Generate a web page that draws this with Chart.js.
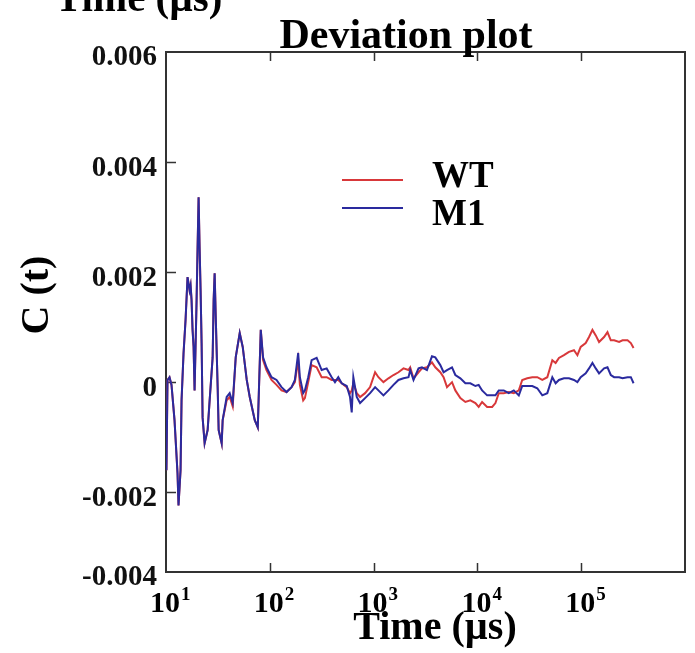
<!DOCTYPE html>
<html><head><meta charset="utf-8">
<script src="https://cdn.jsdelivr.net/npm/chart.js@4.4.0/dist/chart.umd.min.js"></script>
<style>html,body{margin:0;padding:0;background:#fff;}</style>
</head><body><canvas id="c" width="695" height="653"></canvas>
<script>
// ---- data ----
const times = [
  10.1, 10.34, 10.81, 11.30, 12.08, 12.91, 13.20, 13.81, 14.12, 14.76,
  15.43, 16.13, 16.87, 17.25, 17.63, 18.03, 18.44, 18.85, 19.71, 20.15,
  20.61, 21.07, 21.54, 22.03, 22.52, 23.55, 25.18, 26.33, 28.14, 28.77,
  29.42, 30.08, 31.45, 32.16, 34.38, 35.15, 38.42, 41.07, 43.91, 46.95,
  51.31, 54.84, 59.95, 64.09, 71.64, 76.59, 81.85,
  86.1, 92.9, 103.9, 116.1, 129.7, 145.0, 162.1, 174.4, 187.7, 194.9,
  209.8, 217.8, 234.5, 252.9, 282.7, 315.9, 353.0, 394.6, 424.6, 457.0,
  492.9, 550.9, 592.8, 615.6, 637.9, 688.2, 740.5, 827.7, 925.1, 1034,
  1113, 1244, 1390, 1554, 1736, 1941, 2169, 2253, 2424, 2710,
  2922, 3266, 3650, 3929, 4391, 4724, 5096, 5695, 6130, 6851,
  7656, 8556, 9565, 10290, 11100, 12410, 13870, 14920, 16060, 17950,
  20060, 22430, 25060, 27030, 30220, 33770, 37740, 42180, 47140, 52690,
  56710, 61030, 68210, 76230, 85200, 91900, 98890, 110500, 119000, 128300,
  138100, 148600, 166100, 179100, 192800, 207500, 231900, 250100, 279500, 300800,
  319400
];
const wtValues = [
  -0.0016, 0.00004, 0.00009, -0.00005, -0.00069, -0.00165, -0.00224, -0.0016, -0.00033, 0.00053,
  0.00113, 0.00191, 0.00167, 0.00176, 0.00149, 0.00095, 0.00064, -0.00015, 0.00149, 0.00245,
  0.00336, 0.00245, 0.00167, 0.00071, -0.00064, -0.00111, -0.00087, -0.00033, 0.00045, 0.00149,
  0.00198, 0.00125, -0.00009, -0.00087, -0.00111, -0.00069, -0.00033, -0.00027, -0.00044, 0.00045,
  0.00089, 0.00064, 0.00004, -0.00027, -0.00069, -0.00082, 0.00095,
  0.0004, 0.00022, 0.00004, -0.00005, -0.00015, -0.00018, -0.00009, 0, 0.0004, -0.00005,
  -0.00033, -0.00029, 0, 0.00031, 0.00027, 0.00009, 0.00009, 0.00004, 0.00004, 0.00004,
  -0.00002, -0.00009, -0.0002, -0.00015, -0.00002, -0.0002, -0.00027, -0.0002, -0.00009, 0.00018,
  0.00009, 0, 0.00007, 0.00013, 0.00018, 0.00025, 0.00022, 0.00027, 0.00007, 0.00018,
  0.00025, 0.00027, 0.00036, 0.00027, 0.00018, 0.00009, -0.00009, 0, -0.00015, -0.00029,
  -0.00036, -0.00033, -0.00038, -0.00045, -0.00036, -0.00045, -0.00045, -0.00038, -0.0002, -0.0002,
  -0.00018, -0.0002, -0.00015, 0.00004, 0.00007, 0.00009, 0.00009, 0.00004, 0.00009, 0.0004,
  0.00035, 0.00044, 0.00049, 0.00055, 0.00058, 0.00049, 0.00064, 0.00071, 0.00082, 0.00095,
  0.00085, 0.00073, 0.00082, 0.00091, 0.00076, 0.00076, 0.00073, 0.00076, 0.00076, 0.00071,
  0.00062
];
const m1Values = [
  -0.0016, 0.00004, 0.00009, -0.00005, -0.00069, -0.00165, -0.00224, -0.0016, -0.00033, 0.00053,
  0.00113, 0.00191, 0.00167, 0.00176, 0.00149, 0.00095, 0.00064, -0.00015, 0.00149, 0.00245,
  0.00336, 0.00245, 0.00167, 0.00071, -0.00064, -0.00111, -0.00087, -0.00033, 0.00045, 0.00149,
  0.00198, 0.00125, -0.00009, -0.00087, -0.00111, -0.00069, -0.00027, -0.0002, -0.00038, 0.00045,
  0.00089, 0.00064, 0.00004, -0.00027, -0.00069, -0.00082, 0.00095,
  0.00045, 0.00027, 0.00009, 0.00004, -0.00009, -0.00018, -0.00009, 0.00004, 0.00053, 0.00009,
  -0.0002, -0.00015, 0.00009, 0.0004, 0.00044, 0.00022, 0.00025, 0.00009, 0, 0.00009,
  -0.00002, -0.00007, -0.00027, -0.00055, 0.00009, -0.00027, -0.00038, -0.00029, -0.0002, -0.00009,
  -0.00015, -0.00024, -0.00015, -0.00005, 0.00004, 0.00007, 0.00009, 0.00022, 0.00004, 0.00025,
  0.00027, 0.00022, 0.00047, 0.00045, 0.00031, 0.00018, 0.00022, 0.00027, 0.00013, 0.00007,
  -0.00002, -0.00002, -0.00007, -0.00005, -0.00015, -0.00024, -0.00024, -0.00024, -0.00015, -0.00015,
  -0.0002, -0.00015, -0.00024, -0.00007, -0.00007, -0.00007, -0.00011, -0.00024, -0.0002, 0.00009,
  -0.00002, 0.00004, 0.00007, 0.00007, 0.00004, 0, 0.00009, 0.00016, 0.00025, 0.00035,
  0.00025, 0.00016, 0.00025, 0.00027, 0.00013, 0.00009, 0.00009, 0.00007, 0.00009, 0.00009,
  -0.00002
];
const seriesNames = ['WT', 'M1'];
const seriesColors = ['#d8383a', '#2a2a9e'];
const xTickValues = [10, 100, 1000, 10000, 100000];
const xTickBase = '10';
const xTickExponents = ['1', '2', '3', '4', '5'];
const yTickValues = [-0.00345, -0.002, 0, 0.002, 0.004, 0.006];
const yTickLabels = ['-0.004', '-0.002', '0', '0.002', '0.004', '0.006'];
const chartTitle = 'Deviation plot';
const xTitle = 'Time (\u00B5s)';
const yTitle = 'C (t)';

const SERIF = "'Liberation Serif', 'Times New Roman', serif";

const decor = {
  id: 'decor',
  beforeDatasetsDraw(chart) {
    const {ctx, chartArea: a, scales: {x, y}} = chart;
    ctx.save();
    ctx.strokeStyle = '#333';
    ctx.lineWidth = 2;
    ctx.strokeRect(a.left, a.top, a.right - a.left, a.bottom - a.top);
    ctx.beginPath();
    yTickValues.slice(1, -1).forEach(v => {
      const py = Math.round(y.getPixelForValue(v)) + 0.5;
      ctx.moveTo(a.left, py); ctx.lineTo(a.left + 10, py);
    });
    xTickValues.slice(1).forEach(v => {
      const px = Math.round(x.getPixelForValue(v)) + 0.5;
      ctx.moveTo(px, a.bottom); ctx.lineTo(px, a.bottom - 9);
      ctx.moveTo(px, a.top); ctx.lineTo(px, a.top + 9);
    });
    ctx.lineWidth = 1.5;
    ctx.stroke();
    ctx.restore();
  },
  afterDraw(chart) {
    const {ctx, scales: {x}} = chart;
    ctx.save();
    ctx.fillStyle = '#000';
    ctx.textBaseline = 'alphabetic';
    // x tick labels (base with superscript exponent)
    xTickValues.forEach((v, i) => {
      const px = x.getPixelForValue(v);
      ctx.font = 'bold 30px ' + SERIF;
      ctx.textAlign = 'left';
      const bx = px - 16;
      ctx.fillText(xTickBase, bx, 612);
      const w = ctx.measureText(xTickBase).width;
      ctx.font = 'bold 19px ' + SERIF;
      ctx.fillText(xTickExponents[i], bx + w + 1, 600);
    });
    // clipped axis title from above
    ctx.font = 'bold 41px ' + SERIF;
    ctx.textAlign = 'left';
    ctx.fillText(xTitle, 55, 11);
    // chart title
    ctx.font = 'bold 42px ' + SERIF;
    ctx.textAlign = 'center';
    ctx.fillText(chartTitle, 406, 48);
    // x title
    ctx.font = 'bold 40px ' + SERIF;
    ctx.fillText(xTitle, 435, 639);
    // y title
    ctx.save();
    ctx.translate(38, 295);
    ctx.rotate(-Math.PI / 2);
    ctx.textBaseline = 'middle';
    ctx.font = 'bold 40px ' + SERIF;
    ctx.fillText(yTitle, 0, 0);
    ctx.restore();
    // legend
    const legY = [180, 208];
    const txtY = [187, 225];
    chart.data.datasets.forEach((ds, i) => {
      ctx.strokeStyle = ds.borderColor;
      ctx.lineWidth = 1.8;
      ctx.beginPath();
      ctx.moveTo(342, legY[i]); ctx.lineTo(403, legY[i]);
      ctx.stroke();
      ctx.font = 'bold 37px ' + SERIF;
      ctx.textAlign = 'left';
      ctx.fillText(ds.label, 432, txtY[i]);
    });
    ctx.restore();
  }
};

new Chart(document.getElementById('c'), {
  type: 'line',
  data: {
    datasets: [
      { label: seriesNames[0], data: times.map((t, i) => ({x: t, y: wtValues[i]})),
        borderColor: seriesColors[0], borderWidth: 2, pointRadius: 0, tension: 0, order: 2 },
      { label: seriesNames[1], data: times.map((t, i) => ({x: t, y: m1Values[i]})),
        borderColor: seriesColors[1], borderWidth: 2, pointRadius: 0, tension: 0, order: 1 }
    ]
  },
  options: {
    responsive: false,
    animation: false,
    devicePixelRatio: 1,
    layout: { padding: { top: 52, right: 10, left: 0, bottom: 0 } },
    plugins: { legend: { display: false }, tooltip: { enabled: false }, title: { display: false } },
    scales: {
      x: {
        type: 'logarithmic', min: 10, max: 1000000,
        afterFit(s) { s.height = 81; },
        afterBuildTicks(s) { s.ticks = xTickValues.map(v => ({value: v})); },
        ticks: { display: false },
        grid: { display: false }, border: { display: false }
      },
      y: {
        type: 'linear', min: -0.00345, max: 0.006,
        afterFit(s) { s.width = 166; },
        afterBuildTicks(s) { s.ticks = yTickValues.map(v => ({value: v})); },
        ticks: { callback: (v, i) => yTickLabels[i], autoSkip: false, labelOffset: 6,
                 font: { family: SERIF, size: 29, weight: 'bold' }, color: '#111', padding: 1 },
        grid: { display: false }, border: { display: false }
      }
    }
  },
  plugins: [decor]
});
</script>
</body></html>
